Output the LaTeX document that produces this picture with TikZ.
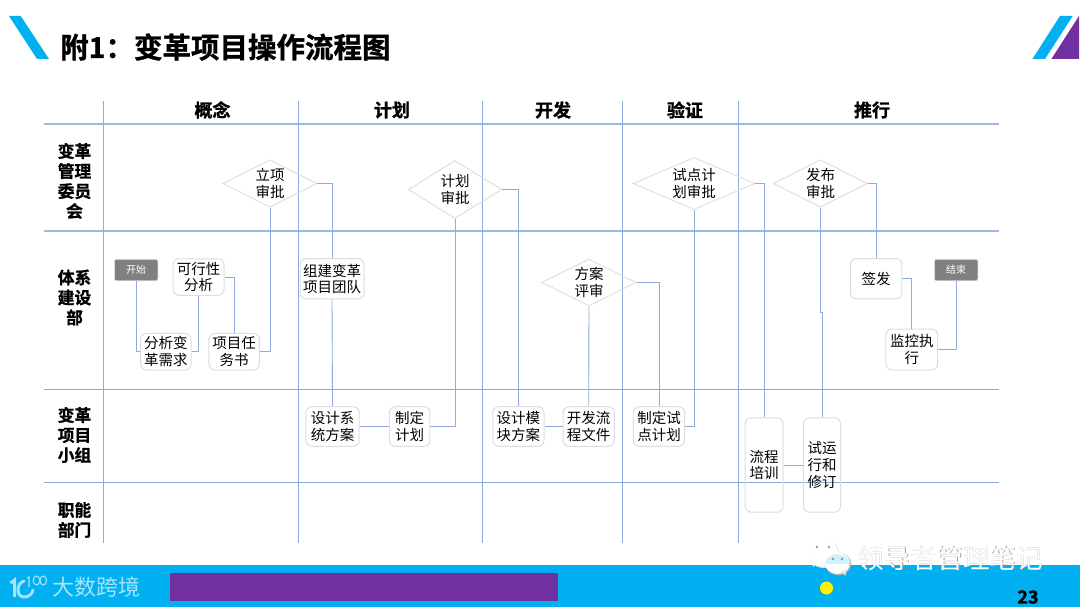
\documentclass[tikz,border=0pt]{standalone}
\usepackage{fontspec}
\setmainfont[BoldFont=Noto Sans CJK SC Bold,BoldFeatures={FakeBold=1.2}]{Noto Sans CJK SC}
\usetikzlibrary{shapes.geometric}
\definecolor{gridc}{HTML}{8FAADC}
\definecolor{edgec}{HTML}{DDDDDD}
\definecolor{cyanb}{HTML}{00B0F0}
\definecolor{purp}{HTML}{7030A0}
\tikzset{
  x=1pt,y=-1pt,
  gridl/.style={draw=gridc,line width=0.8pt},
  gridt/.style={draw=gridc!85!white,line width=1.2pt},
  conn/.style={draw=gridc,line width=0.9pt},
  proc/.style={draw=edgec,line width=1pt,rounded corners=6pt,inner sep=0pt,align=center,
    font=\fontsize{14.5}{16.6}\selectfont,text=black},
  termb/.style={draw=edgec,fill=black!50,line width=0.8pt,rounded corners=2pt,inner sep=0pt,
    minimum width=43.5pt,minimum height=21.5pt,text=white,font=\fontsize{10}{11}\selectfont},
  deci/.style={diamond,aspect=2,draw=edgec,line width=0.9pt,inner sep=0pt,align=center,
    font=\fontsize{14.5}{17}\selectfont,text=black},
  rowh/.style={align=center,inner sep=0pt,font=\fontsize{16.7}{20}\selectfont\bfseries},
  colh/.style={inner sep=0pt,font=\fontsize{18}{20}\selectfont\bfseries},
  wm/.style={inner sep=0pt,font=\fontsize{26.5}{28}\selectfont},
  brandc/.style={white!65!cyanb},
}
\begin{document}
\begin{tikzpicture}
\useasboundingbox (0,0) rectangle (1080,607);
\fill[white] (0,0) rectangle (1080,607);
% decorations
\fill[cyanb] (9,16) -- (20.7,16) -- (49,59) -- (37,59) -- cycle;
\fill[cyanb] (1032.4,59) -- (1045,59) -- (1072.7,16) -- (1060,16) -- cycle;
\fill[purp] (1051.4,59) -- (1079,16) -- (1079,59) -- cycle;
\node[anchor=west,inner sep=0pt,font=\fontsize{28.5}{30}\selectfont\bfseries] (title) at (60,47) {附1：变革项目操作流程图};
% footer
\fill[cyanb] (0,564.5) rectangle (1080,607);
\fill[purp] (170,572.7) rectangle (558,600.7);
\fill[yellow] (826.5,588) circle (6.5);
\node[inner sep=0pt,font=\fontsize{18}{20}\selectfont\bfseries] (pg) at (1028,597) {23};
\node[anchor=west,inner sep=0pt,text=white!65!cyanb,font=\fontsize{22}{24}\selectfont] (brand) at (52,587.5) {大数跨境};
\draw[brandc,line width=3pt] (10.5,583) -- (14.5,580) -- (14.5,597);
\draw[brandc,line width=3pt,line cap=round] (24,581) .. controls (16,583) and (16,597) .. (24,597) .. controls (29,597) and (32,594) .. (33,590);
\draw[brandc,line width=1.2pt] (27,578) -- (29,577) -- (29,587);
\draw[brandc,line width=1.1pt] (36.5,580.5) ellipse (3.3 and 4.5);
\draw[brandc,line width=1.1pt] (43.3,580.5) ellipse (3.3 and 4.5);
% grid
\foreach \yy in {124,231} \draw[gridt] (44,\yy) -- (999,\yy);
\foreach \yy in {389.7,482.3} \draw[gridl] (44,\yy) -- (999,\yy);
\foreach \xx in {103.3,298.2,482.6,622.3,738.7} \draw[gridl] (\xx,101) -- (\xx,543);
% headers
\node[colh] (c1) at (212.5,110) {概念};
\node[colh] (c2) at (392,110) {计划};
\node[colh] (c3) at (553,110) {开发};
\node[colh] (c4) at (685,110) {验证};
\node[colh] (c5) at (872,110) {推行};
\node[rowh] (r1) at (74.5,181) {变革\\管理\\委员\\会};
\node[rowh] (r2) at (74.5,297.5) {体系\\建设\\部};
\node[rowh] (r3) at (74.5,435) {变革\\项目\\小组};
\node[rowh] (r4) at (74.5,520) {职能\\部门};
% decisions
\node[deci,minimum width=94pt,minimum height=47.5pt] (lx) at (270,183.5) {立项\\审批};
\node[deci,minimum width=93.5pt,minimum height=58pt] (jh) at (455,189.5) {计划\\审批};
\node[deci,minimum width=122pt,minimum height=47.5pt] (sd) at (694,183.5) {试点计\\划审批};
\node[deci,minimum width=94pt,minimum height=47.5pt] (fb) at (820.5,183.5) {发布\\审批};
\node[deci,minimum width=94.5pt,minimum height=47pt] (fa) at (589,282.5) {方案\\评审};
% processes
\node[termb] (st) at (136.2,270) {开始};
\node[termb] (en) at (956.2,270) {结束};
\node[proc,minimum width=51pt,minimum height=36.5pt] (kx) at (198.5,277) {可行性\\分析};
\node[proc,minimum width=50.5pt,minimum height=36.7pt] (an) at (165.8,351.7) {分析变\\革需求};
\node[proc,minimum width=50.5pt,minimum height=36.7pt] (rw) at (234.2,351.7) {项目任\\务书};
\node[proc,minimum width=64pt,minimum height=40.3pt] (zj) at (332,278.8) {组建变革\\项目团队};
\node[proc,minimum width=53.4pt,minimum height=39.6pt] (sj) at (332.5,426.5) {设计系\\统方案};
\node[proc,minimum width=40.5pt,minimum height=39.6pt] (zd) at (409.7,426.5) {制定\\计划};
\node[proc,minimum width=51.2pt,minimum height=39.6pt] (mk) at (518.4,426.5) {设计模\\块方案};
\node[proc,minimum width=51.4pt,minimum height=39.6pt] (kf) at (588.7,426.5) {开发流\\程文件};
\node[proc,minimum width=51.3pt,minimum height=39.6pt] (sz) at (659,426.5) {制定试\\点计划};
\node[proc,minimum width=37.8pt,minimum height=94.3pt] (px) at (764.1,465) {流程\\培训};
\node[proc,minimum width=37.2pt,minimum height=94.3pt] (sy) at (822,465) {试运\\行和\\修订};
\node[proc,minimum width=51.7pt,minimum height=40.3pt] (qf) at (876.1,278.8) {签发};
\node[proc,minimum width=51.7pt,minimum height=41pt] (jk) at (911.8,349.5) {监控执\\行};
% connectors
\coordinate (jog) at (822,312);
\draw[conn] (st.south) |- (an.west);
\draw[conn] (an.east) -| (kx.south);
\draw[conn] (kx.east) -| (rw.north);
\draw[conn] (rw.east) -| (lx.south);
\draw[conn] (lx.east) -| (zj.north);
\draw[conn] (zj.south) -- (sj.north);
\draw[conn] (sj.east) -- (zd.west);
\draw[conn] (zd.east) -| (jh.south);
\draw[conn] (jh.east) -| (mk.north);
\draw[conn] (mk.east) -- (kf.west);
\draw[conn] (kf.north) -- (fa.south);
\draw[conn] (fa.east) -| (sz.north);
\draw[conn] (sz.east) -| (sd.south);
\draw[conn] (sd.east) -| (px.north);
\draw[conn] (px.east) -- (sy.west);
\draw[conn] (fb.south) -- (fb.south |- jog) -- (jog) -- (sy.north);
\draw[conn] (fb.east) -| (qf.north);
\draw[conn] (qf.east) -| (jk.north);
\draw[conn] (jk.east) -| (en.south);
% watermark
\begin{scope}[shift={(0.6,0.8)}]
\node[wm,anchor=west,text=black!38] (wm2) at (857,558) {领导者管理笔记};
\end{scope}
% left bubble
\fill[black!12] (823.8,554) ellipse (15.5 and 14);
\fill[black!22] (813,567) -- (819,563) -- (813,560) -- cycle;
\fill[white] (823,553) ellipse (15 and 13.5);
\fill[white] (812.5,566) -- (819,563) -- (813,559) -- cycle;
% right bubble
\fill[black!30] (838.3,563.8) ellipse (13 and 11.5);
\fill[black!30] (846,576) -- (846.5,570) -- (841,572.5) -- cycle;
\fill[white] (837.5,563) ellipse (12.5 and 11);
\fill[white!82!cyanb] (825,564) arc (180:360:12.5 and 10) -- cycle;
\fill[white!82!cyanb] (845.5,575) -- (846,569) -- (840.5,572) -- cycle;
\foreach \ex/\ey in {817/547,829/547,833/559,842/559} \draw[black!50,line width=0.5pt] (\ex,\ey) circle (1.1);
\node[wm,anchor=west,text=white] (wm1) at (857,558) {领导者管理笔记};
\end{tikzpicture}
\end{document}
